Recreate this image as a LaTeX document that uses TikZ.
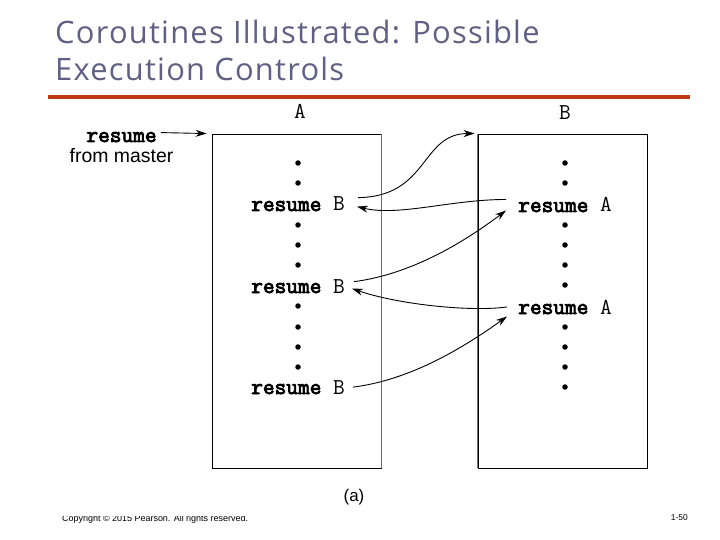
\documentclass[tikz,border=0pt]{standalone}
\usepackage{fontspec}
\setmainfont{Liberation Sans}
\newfontfamily\codefont{Latin Modern Mono}[AutoFakeBold=3.6]
\newfontfamily\titlefont{Open Sans}[LetterSpace=4]
\usetikzlibrary{arrows.meta}
\definecolor{titlecol}{RGB}{96,96,132}
\definecolor{rulecol}{RGB}{190,58,20}
\definecolor{edgegray}{RGB}{110,110,110}
\begin{document}
\begin{tikzpicture}[x=1bp,y=-1bp,
  code/.style={font=\fontsize{22.8}{22.8}\selectfont\codefont, inner sep=0pt, anchor=base},
  sans/.style={font=\fontsize{19.5}{19.5}\selectfont, inner sep=0pt, anchor=base},
  titletext/.style={font=\titlefont\fontsize{31}{31}\selectfont, text=titlecol, inner sep=0pt, anchor=base west},
  dotmark/.style={circle, fill=black, inner sep=0pt, minimum size=5.5bp},
  colbox/.style={draw=black, line width=0.9bp, minimum width=169bp, minimum height=334bp, inner sep=0pt},
  flow/.style={line width=0.9bp, -{Stealth[length=11bp,width=7bp]}},
]
\useasboundingbox (0,0) rectangle (720,540);

% title
\node[titletext] (t1) at (55,44) {Coroutines Illustrated: Possible};
\node[titletext] (t2) at (55,81) {Execution Controls};
\fill[rulecol] (48,95) rectangle (690,99);

% boxes
\node[colbox] (boxA) at (296.5,301) {};
\node[colbox] (boxB) at (562.5,301) {};
\draw[edgegray, line width=0.9bp] (boxA.north east) -- (boxA.south east);
\draw[edgegray, line width=0.9bp] (boxB.north west) -- (boxB.south west);

% column labels
\node[code] (labA) at (300,119) {A};
\node[code] (labB) at (565,120) {B};

% master resume
\node[code] (resm) at (121.5,142) {\textbf{resume}};
\node[sans] (frm) at (121.5,163) {from master};
\coordinate (mEnd) at ([xshift=-5]boxA.north west);
\draw[flow] ([shift={(4,-4.5)}]resm.east) -- (mEnd);

% column A
\node[code] (rB1) at (298,211) {\textbf{resume} B};
\node[code] (rB2) at (298,293) {\textbf{resume} B};
\node[code] (rB3) at (298,394) {\textbf{resume} B};
\foreach \y [count=\i] in {163,183,225,245,265,306,327,347,367}
  \node[dotmark] (dA\i) at (298,\y) {};

% column B
\node[code] (rA1) at (565,212) {\textbf{resume} A};
\node[code] (rA2) at (565,314) {\textbf{resume} A};
\foreach \y [count=\i] in {163,183,225,245,265,285,327,347,367,387}
  \node[dotmark] (dB\i) at (565,\y) {};

% transfers
\draw[flow] ([shift={(13,-6.5)}]rB1.east) .. controls +(71,-1) and +(-54,0) .. ([xshift=-3]boxB.north west);
\draw[flow] ([shift={(-12,-5.5)}]rA1.west) .. controls +(-55,0) and +(42,10) .. ([shift={(12,2.5)}]rB1.east);
\draw[flow] ([shift={(9,-4.5)}]rB2.east) .. controls +(55,-7) and +(-45,34) .. ([shift={(-12,5.5)}]rA1.west);
\draw[flow] ([shift={(-11,0)}]rA2.west) .. controls +(-36,5) and +(47,16) .. ([shift={(7,2.5)}]rB2.east);
\draw[flow] ([shift={(8,0)}]rB3.east) .. controls +(56,-7) and +(-46,33) .. ([shift={(-11,9.5)}]rA2.west);

% caption
\node[sans, font=\fontsize{17}{17}\selectfont] (cap) at (354,501) {(a)};

% footer
\begin{scope}
  \clip (0,516.5) rectangle (720,540);
  \node[font=\fontsize{9}{9}\selectfont, inner sep=0pt, anchor=base west] (copy) at (62,521) {Copyright © 2015 Pearson. All rights reserved.};
\end{scope}
\node[font=\fontsize{8.5}{8.5}\selectfont, inner sep=0pt, anchor=base east] (pg) at (688,520.5) {1-50};
\end{tikzpicture}
\end{document}
